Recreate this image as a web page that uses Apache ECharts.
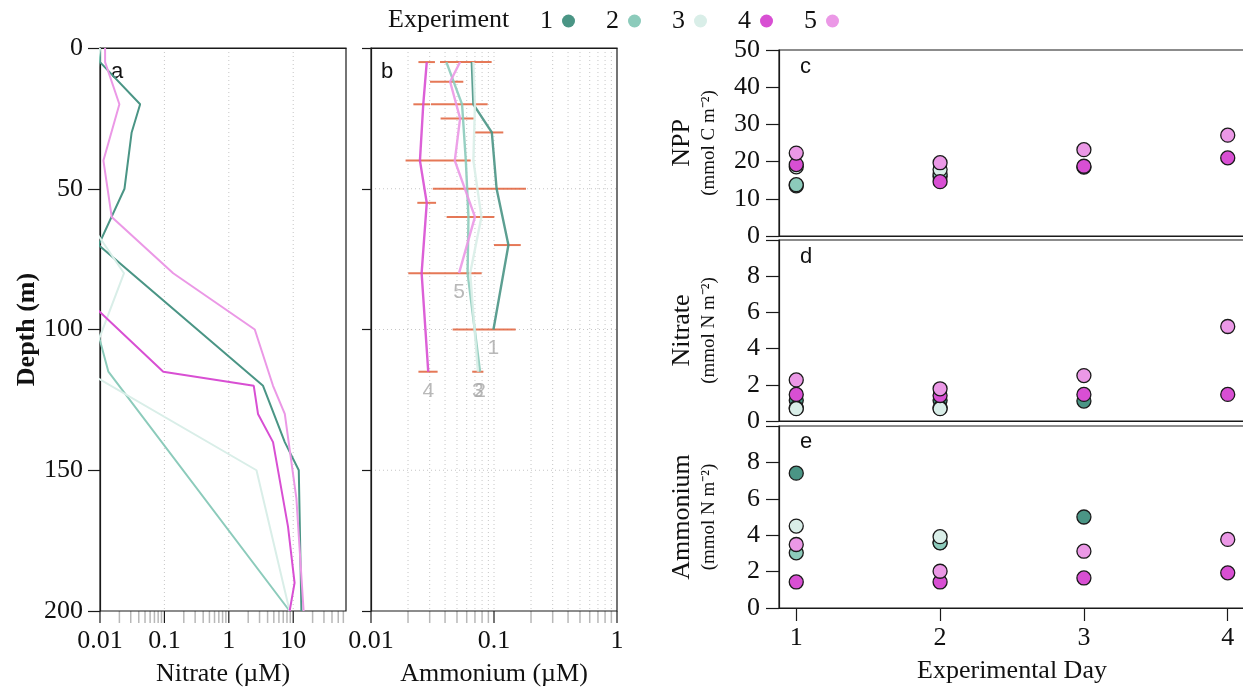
<!DOCTYPE html>
<html>
<head>
<meta charset="utf-8">
<script src="https://cdn.jsdelivr.net/npm/echarts@6/dist/echarts.min.js"></script>
<style>
  html, body { margin: 0; padding: 0; background: #fff; }
  #chart { width: 1243px; height: 694px; }
</style>
</head>
<body>
<div id="chart"></div>
<script>
// experiments and their colours
var experiments = ['1', '2', '3', '4', '5'];
var expColors = ['#4a9585', '#8ccbbb', '#d9eee8', '#d84fd3', '#eb98e6'];

// panel a: nitrate profiles (depth m / nitrate uM), values under 0.01 fall off the axis
var nitDepth1 = [0, 5, 20, 30, 50, 70, 120, 140, 150, 200];
var nit1 = [0.01, 0.01, 0.042, 0.031, 0.024, 0.0095, 3.4, 7.4, 12.2, 13.4];
var nitDepth2 = [0, 10, 100, 115, 200];
var nit2 = [0.01, 0.009, 0.009, 0.0135, 8.8];
var nitDepth3 = [0, 10, 60, 80, 115, 150, 200];
var nit3 = [0.01, 0.008, 0.006, 0.0236, 0.0062, 2.69, 8.8];
var nitDepth4 = [0, 80, 115, 120, 130, 140, 170, 190, 200];
var nit4 = [0.002, 0.0023, 0.096, 2.44, 2.84, 4.86, 8.3, 10.5, 8.8];
var nitDepth5 = [0, 5, 20, 40, 60, 80, 100, 120, 130, 160, 200];
var nit5 = [0.012, 0.012, 0.02, 0.0113, 0.0152, 0.137, 2.53, 4.86, 7.4, 11.2, 14.5];

// panel b: ammonium profiles (depth m / ammonium uM)
var ammDepth1 = [5, 20, 30, 50, 70, 100];
var amm1 = [0.066, 0.068, 0.096, 0.105, 0.131, 0.099];
var ammDepth2 = [5, 20, 40, 60, 80, 115];
var amm2 = [0.041, 0.055, 0.059, 0.062, 0.061, 0.077];
var ammDepth3 = [5, 20, 40, 60, 80, 115];
var amm3 = [0.068, 0.070, 0.068, 0.079, 0.064, 0.074];
var ammDepth4 = [5, 20, 40, 55, 80, 115];
var amm4 = [0.0284, 0.0266, 0.025, 0.0284, 0.0258, 0.0292];
var ammDepth5 = [5, 12, 25, 40, 60, 80];
var amm5 = [0.053, 0.044, 0.053, 0.048, 0.070, 0.052];

// panel b error bars
var errDepth = [5, 5, 12, 20, 20, 25, 30, 40, 50, 55, 60, 70, 80, 100, 115, 115];
var errLow  = [0.0243, 0.0364, 0.0302, 0.0221, 0.0307, 0.0368, 0.070, 0.0191, 0.0318, 0.0238, 0.0412, 0.100, 0.0201, 0.0461, 0.0243, 0.0665];
var errHigh = [0.0331, 0.0957, 0.0563, 0.0302, 0.0888, 0.0687, 0.119, 0.0646, 0.182, 0.0338, 0.1006, 0.165, 0.0794, 0.150, 0.0348, 0.082];

// panels c-e: depth integrated values per experimental day (null = not sampled)
var days = [1, 2, 3, 4];
var npp1 = [13.5, 16.0, 18.5, null];
var npp2 = [13.8, 16.5, null, null];
var npp3 = [18.6, 17.9, null, null];
var npp4 = [19.2, 14.6, 18.75, 21.0];
var npp5 = [22.3, 19.7, 23.2, 27.1];
var intNit1 = [1.14, 1.14, 1.10, null];
var intNit2 = [0.72, 0.72, null, null];
var intNit3 = [0.68, 0.68, null, null];
var intNit4 = [1.47, 1.41, 1.47, 1.47];
var intNit5 = [2.27, 1.78, 2.51, 5.22];
var intAmm1 = [7.41, 3.6, 5.0, null];
var intAmm2 = [3.03, 3.58, null, null];
var intAmm3 = [4.50, 3.92, null, null];
var intAmm4 = [1.43, 1.43, 1.65, 1.93];
var intAmm5 = [3.49, 2.02, 3.12, 3.77];

// tick values
var nitTicks = [0.01, 0.1, 1, 10];
var nitMinor = [0.02, 0.03, 0.04, 0.05, 0.06, 0.07, 0.08, 0.09, 0.2, 0.3, 0.4, 0.5, 0.6, 0.7, 0.8, 0.9, 2, 3, 4, 5, 6, 7, 8, 9, 20, 30, 40, 50, 60];
var ammTicks = [0.01, 0.1, 1];
var ammMinor = [0.02, 0.03, 0.04, 0.05, 0.06, 0.07, 0.08, 0.09, 0.2, 0.3, 0.4, 0.5, 0.6, 0.7, 0.8, 0.9];
var depthGrid = [50, 100, 150];

var nitProfiles = [[nit1, nitDepth1], [nit2, nitDepth2], [nit3, nitDepth3], [nit4, nitDepth4], [nit5, nitDepth5]];
var ammProfiles = [[amm1, ammDepth1], [amm2, ammDepth2], [amm3, ammDepth3], [amm4, ammDepth4], [amm5, ammDepth5]];
var dayPanels = [[npp1, npp2, npp3, npp4, npp5], [intNit1, intNit2, intNit3, intNit4, intNit5], [intAmm1, intAmm2, intAmm3, intAmm4, intAmm5]];

var SERIF = "'Liberation Serif', 'Times New Roman', serif";
var SANS = "'Liberation Sans', Arial, sans-serif";
var INK = '#1a1a1a';

var chart = echarts.init(document.getElementById('chart'));

function zip(xs, ys) {
  return xs.map(function (x, i) { return [x, ys[i]]; });
}

function logLabel(ticks) {
  return function (v) {
    var hit = ticks.filter(function (t) { return Math.abs(Math.log10(t) - Math.log10(v)) < 1e-6; });
    return hit.length ? String(hit[0]) : '';
  };
}

// ticks (and dotted grid lines) for the log axes
function tickRender(major, grid) {
  return function (params, api) {
    var v = api.value(0);
    var top = api.coord([v, 0]);
    var bot = api.coord([v, 200]);
    var cs = params.coordSys;
    var kids = [{
      type: 'line',
      shape: { x1: bot[0], y1: bot[1], x2: bot[0], y2: bot[1] + 12 },
      style: { stroke: major ? INK : '#b8b8b8', lineWidth: major ? 1.2 : 1.5 }
    }];
    if (grid && bot[0] > cs.x + 1 && bot[0] < cs.x + cs.width - 1) {
      kids.push({
        type: 'line',
        shape: { x1: top[0], y1: top[1], x2: bot[0], y2: bot[1] },
        style: { stroke: '#c6c6c6', lineWidth: 1, lineDash: [1, 3] }
      });
    }
    return { type: 'group', children: kids };
  };
}

var axisLineStyle = { color: INK, width: 1.2 };
var tickLabel = { fontFamily: SERIF, fontSize: 26, color: '#111' };

var series = [];

// c, d, e scatter
dayPanels.forEach(function (panel, p) {
  panel.forEach(function (vals, i) {
    series.push({
      name: experiments[i],
      type: 'scatter',
      xAxisIndex: 2 + p,
      yAxisIndex: 2 + p,
      symbolSize: 14,
      itemStyle: { color: expColors[i], borderColor: INK, borderWidth: 1.3, opacity: 1 },
      data: zip(days, vals).filter(function (d) { return d[1] != null; })
    });
  });
});

// a lines
nitProfiles.forEach(function (pr, i) {
  series.push({
    name: experiments[i],
    type: 'line',
    xAxisIndex: 0,
    yAxisIndex: 0,
    showSymbol: false,
    symbol: 'none',
    clip: true,
    itemStyle: { color: expColors[i] },
    lineStyle: { color: expColors[i], width: 2 },
    data: zip(pr[0], pr[1])
  });
});

// b lines
ammProfiles.forEach(function (pr, i) {
  series.push({
    name: experiments[i],
    type: 'line',
    xAxisIndex: 1,
    yAxisIndex: 1,
    showSymbol: false,
    symbol: 'none',
    itemStyle: { color: expColors[i] },
    lineStyle: { color: expColors[i], width: 2.4, opacity: 0.9 },
    data: zip(pr[0], pr[1])
  });
});

// b error bars
series.push({
  type: 'custom',
  xAxisIndex: 1,
  yAxisIndex: 1,
  encode: { x: [0, 2], y: 1 },
  data: errDepth.map(function (d, i) { return [errLow[i], d, errHigh[i]]; }),
  renderItem: function (params, api) {
    var a = api.coord([api.value(0), api.value(1)]);
    var b = api.coord([api.value(2), api.value(1)]);
    return {
      type: 'line',
      shape: { x1: a[0], y1: a[1], x2: b[0], y2: b[1] },
      style: { stroke: '#e0603a', lineWidth: 2, opacity: 0.85 }
    };
  }
});

// b end labels
series.push({
  type: 'scatter',
  xAxisIndex: 1,
  yAxisIndex: 1,
  symbolSize: 1,
  itemStyle: { color: 'transparent' },
  label: {
    show: true, position: 'bottom', distance: 8,
    fontFamily: SANS, fontSize: 21, color: '#a8a8a8',
    formatter: function (p) { return p.data[2]; }
  },
  data: ammProfiles.map(function (pr, i) {
    var n = pr[0].length - 1;
    return [pr[0][n], pr[1][n], experiments[i]];
  })
});

// tick layers for log axes
[[0, nitTicks, true, true], [0, nitMinor, false, false], [1, ammTicks, true, true], [1, ammMinor, false, true]].forEach(function (t) {
  series.push({
    type: 'custom',
    xAxisIndex: t[0],
    yAxisIndex: t[0],
    z: -1,
    encode: { x: 0, y: 1 },
    data: t[1].map(function (v) { return [v, 0]; }),
    renderItem: tickRender(t[2], t[3])
  });
});

// b horizontal dotted grid
series.push({
  type: 'custom',
  xAxisIndex: 1,
  yAxisIndex: 1,
  z: -1,
  encode: { x: 0, y: 1 },
  data: depthGrid.map(function (d) { return [ammTicks[0], d]; }),
  renderItem: function (params, api) {
    var a = api.coord([ammTicks[0], api.value(1)]);
    var b = api.coord([ammTicks[ammTicks.length - 1], api.value(1)]);
    return {
      type: 'line',
      shape: { x1: a[0], y1: a[1], x2: b[0], y2: b[1] },
      style: { stroke: '#c6c6c6', lineWidth: 1, lineDash: [1, 3] }
    };
  }
});

function gridBox(l, t, w, h) {
  return { left: l, top: t, width: w, height: h, show: true, borderColor: INK, borderWidth: 1.2, outerBoundsMode: 'none' };
}

function dayYAxis(idx, max, step, name) {
  return {
    gridIndex: idx, type: 'value', min: 0, max: max, interval: step,
    axisLine: { show: true, lineStyle: axisLineStyle },
    axisTick: { show: true, length: 13, lineStyle: axisLineStyle },
    axisLabel: Object.assign({ margin: 19, formatter: function (v) { return v === max && max === 10 ? '' : String(v); } }, tickLabel),
    splitLine: { show: false },
    name: name, nameLocation: 'middle', nameGap: 58,
    nameTextStyle: {
      rich: {
        a: { fontFamily: SERIF, fontSize: 26, color: '#111', lineHeight: 30 },
        b: { fontFamily: SERIF, fontSize: 19, color: '#111', lineHeight: 24 }
      }
    }
  };
}

function dayXAxis(idx, show) {
  return {
    gridIndex: idx, type: 'value', min: 0.88, max: 4.12,
    axisLine: { show: true, lineStyle: axisLineStyle },
    axisTick: { show: show, length: 13, customValues: days, lineStyle: axisLineStyle },
    axisLabel: Object.assign({ show: show, margin: 17, customValues: days }, tickLabel),
    splitLine: { show: false },
    name: show ? 'Experimental Day' : '', nameLocation: 'middle', nameGap: 50,
    nameTextStyle: { fontFamily: SERIF, fontSize: 26, color: '#111' }
  };
}

function depthAxis(idx, labels) {
  return {
    gridIndex: idx, type: 'value', inverse: true, min: 0, max: 200, interval: 50,
    axisLine: { show: true, lineStyle: axisLineStyle },
    axisTick: { show: true, length: labels ? 12 : 9, lineStyle: axisLineStyle },
    axisLabel: Object.assign({ show: labels, margin: 17 }, tickLabel),
    splitLine: { show: false },
    name: labels ? 'Depth (m)' : '', nameLocation: 'middle', nameGap: 60,
    nameTextStyle: { fontFamily: SERIF, fontSize: 26, fontWeight: 'bold', color: '#111' }
  };
}

function logAxis(idx, max, ticks, name) {
  return {
    gridIndex: idx, type: 'log', logBase: 10, min: 0.01, max: max,
    axisLine: { show: true, lineStyle: axisLineStyle },
    axisTick: { show: false },
    axisLabel: Object.assign({ margin: 17, showMinLabel: true, showMaxLabel: max === 1, formatter: logLabel(ticks) }, tickLabel),
    splitLine: { show: false },
    name: name, nameLocation: 'middle', nameGap: 50,
    nameTextStyle: { fontFamily: SERIF, fontSize: 26, color: '#111' }
  };
}

var option = {
  animation: false,
  backgroundColor: '#fff',
  legend: {
    data: experiments,
    left: 540, top: 8, padding: 0,
    icon: 'circle', align: 'right',
    itemWidth: 13, itemHeight: 13, itemGap: 31,
    itemStyle: { borderWidth: 0 },
    textStyle: { fontFamily: SERIF, fontSize: 26, color: '#111', padding: [0, 4, 0, 0] }
  },
  graphic: [
    { type: 'text', left: 388, top: 7, style: { text: 'Experiment', font: '26px ' + SERIF, fill: '#111' } },
    { type: 'text', x: 111, y: 72, style: { text: 'a', font: '22px ' + SANS, fill: '#111', verticalAlign: 'middle' } },
    { type: 'text', x: 381, y: 72, style: { text: 'b', font: '22px ' + SANS, fill: '#111', verticalAlign: 'middle' } },
    { type: 'text', x: 800, y: 67, style: { text: 'c', font: '22px ' + SANS, fill: '#111', verticalAlign: 'middle' } },
    { type: 'text', x: 800, y: 257, style: { text: 'd', font: '22px ' + SANS, fill: '#111', verticalAlign: 'middle' } },
    { type: 'text', x: 800, y: 442, style: { text: 'e', font: '22px ' + SANS, fill: '#111', verticalAlign: 'middle' } }
  ],
  grid: [
    gridBox(100, 48, 246, 563),
    gridBox(371, 48, 246, 563),
    gridBox(779, 50, 466, 186),
    gridBox(779, 240, 466, 181),
    gridBox(779, 426, 466, 182)
  ],
  xAxis: [
    logAxis(0, 66, nitTicks, 'Nitrate (\u00b5M)'),
    logAxis(1, 1, ammTicks, 'Ammonium (\u00b5M)'),
    dayXAxis(2, false),
    dayXAxis(3, false),
    dayXAxis(4, true)
  ],
  yAxis: [
    depthAxis(0, true),
    depthAxis(1, false),
    dayYAxis(2, 50, 10, '{a|NPP}\n{b|(mmol C m\u207b\u00b2)}'),
    dayYAxis(3, 10, 2, '{a|Nitrate}\n{b|(mmol N m\u207b\u00b2)}'),
    dayYAxis(4, 10, 2, '{a|Ammonium}\n{b|(mmol N m\u207b\u00b2)}')
  ],
  series: series
};

chart.setOption(option);
</script>
</body>
</html>
